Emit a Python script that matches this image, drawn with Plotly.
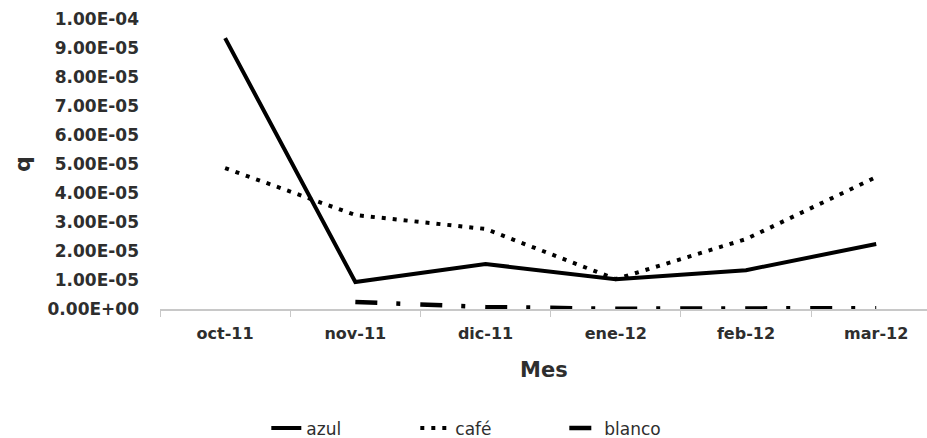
import plotly.graph_objects as go

meses = ["oct-11", "nov-11", "dic-11", "ene-12", "feb-12", "mar-12"]
azul = [9.34e-5, 0.93e-5, 1.55e-5, 1.03e-5, 1.34e-5, 2.24e-5]
cafe = [4.86e-5, 3.24e-5, 2.76e-5, 1.03e-5, 2.41e-5, 4.55e-5]
blanco = [None, 0.24e-5, 0.07e-5, 0.01e-5, 0.01e-5, 0.03e-5]

y_ticks = [i * 1e-5 for i in range(11)]
y_tick_labels = ["0.00E+00", "1.00E-05", "2.00E-05", "3.00E-05", "4.00E-05",
                 "5.00E-05", "6.00E-05", "7.00E-05", "8.00E-05", "9.00E-05", "1.00E-04"]

font_family = "DejaVu Sans, sans-serif"
text_color = "#2e2e2e"

fig = go.Figure()
fig.add_trace(go.Scatter(x=meses, y=azul, name="azul", mode="lines",
                         line=dict(color="black", width=4)))
fig.add_trace(go.Scatter(x=meses, y=cafe, name="café", mode="lines",
                         line=dict(color="black", width=4, dash="4px,7px")))
fig.add_trace(go.Scatter(x=meses, y=blanco, name="blanco", mode="lines",
                         line=dict(color="black", width=4.5, dash="22px,19px,4px,20px")))

fig.update_layout(
    width=927, height=438,
    margin=dict(l=160, r=0, t=19, b=129, autoexpand=False),
    plot_bgcolor="white", paper_bgcolor="white",
    font=dict(family=font_family, color=text_color),
    showlegend=True,
    legend=dict(orientation="h", x=0.43, xanchor="center",
                yref="container", y=0.022, yanchor="middle",
                font=dict(size=17, color=text_color), entrywidth=104,
                traceorder="normal"),
    xaxis=dict(
        type="category", range=[-0.5, 5.39],
        showgrid=False, showline=True, linecolor="#c8c8c8", linewidth=1.5,
        ticks="outside", tickson="boundaries", ticklen=6, tickcolor="#c8c8c8",
        tickfont=dict(size=16, color=text_color, weight="bold"),
        ticklabelstandoff=9,
    ),
    yaxis=dict(
        range=[0, 1e-4], tickvals=y_ticks, ticktext=y_tick_labels,
        showgrid=False, zeroline=False, showline=False, ticks="",
        tickfont=dict(size=17, color=text_color, weight="bold"),
        ticklabelstandoff=20,
    ),
    annotations=[
        dict(text="Mes", xref="paper", yref="paper", x=0.5, y=-0.21,
             xanchor="center", yanchor="middle", showarrow=False,
             font=dict(size=21, weight="bold", color=text_color)),
        dict(text="q", xref="paper", yref="paper", x=-0.18, y=0.5,
             xanchor="center", yanchor="middle", showarrow=False, textangle=-90,
             font=dict(size=22, weight="bold", color=text_color)),
    ],
)

fig.write_html("out.html")
